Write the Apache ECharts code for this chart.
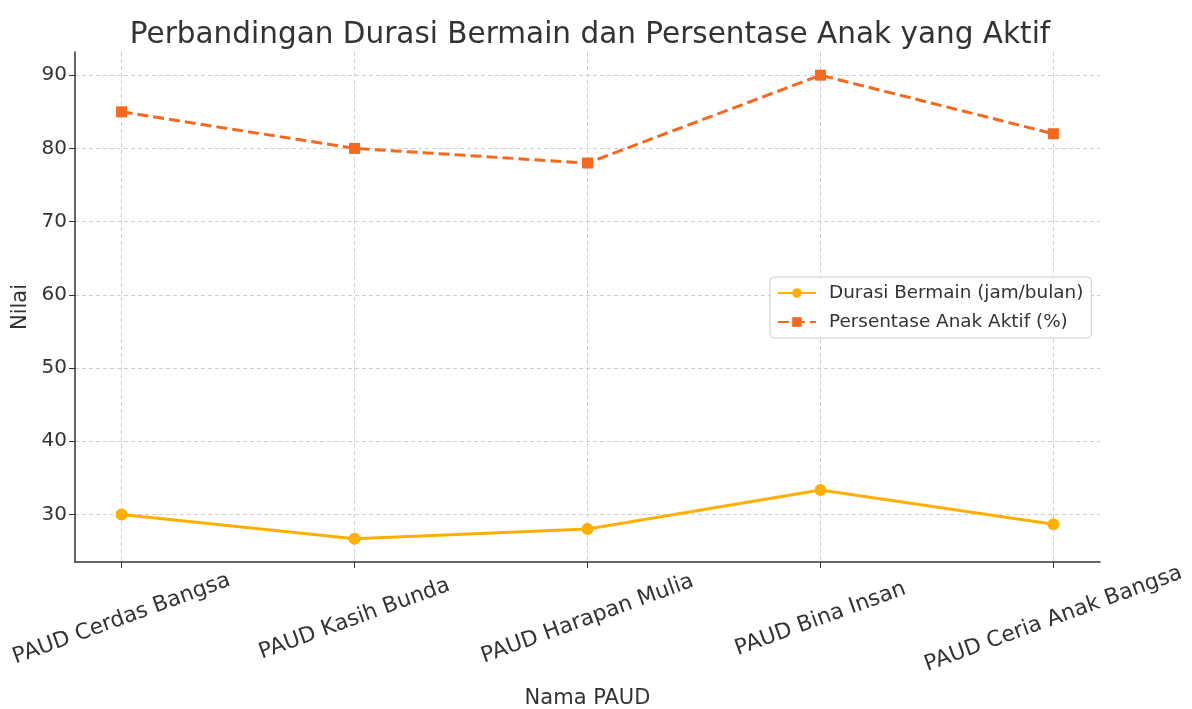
<!DOCTYPE html>
<html>
<head>
<meta charset="utf-8">
<script src="https://cdn.jsdelivr.net/npm/echarts@6/dist/echarts.min.js"></script>
<style>
  html, body { margin: 0; padding: 0; background: #fff; }
  #container { width: 1192px; height: 709px; }
</style>
</head>
<body>
<div id="container"></div>
<script>
var categories = ['PAUD Cerdas Bangsa', 'PAUD Kasih Bunda', 'PAUD Harapan Mulia', 'PAUD Bina Insan', 'PAUD Ceria Anak Bangsa'];
var durasiBermain = [30, 26.67, 28, 33.33, 28.67];
var persenAktif = [85, 80, 78, 90, 82];
var yTicks = [30, 40, 50, 60, 70, 80, 90];

var dom = document.getElementById('container');
var myChart = echarts.init(dom, null, { renderer: 'canvas' });

var font = 'DejaVu Sans';
var textColor = '#333';

function pairs(values) {
  return values.map(function (v, i) { return [i, v]; });
}

// matplotlib-like 5% margins around the data
var allVals = durasiBermain.concat(persenAktif);
var yLo = Math.min.apply(null, allVals), yHi = Math.max.apply(null, allVals);
var yPad = (yHi - yLo) * 0.05;
var xPad = (categories.length - 1) * 0.05;
var xTicks = categories.map(function (c, i) { return i; });

var option = {
  backgroundColor: '#fff',
  title: {
    text: 'Perbandingan Durasi Bermain dan Persentase Anak yang Aktif',
    left: 585,
    top: 15,
    textAlign: 'center',
    textStyle: { fontFamily: font, fontSize: 29.5, fontWeight: 'normal', color: textColor }
  },
  legend: {
    left: 770,
    top: 277,
    orient: 'vertical',
    backgroundColor: 'rgba(255,255,255,0.85)',
    borderColor: '#ccc',
    borderWidth: 1,
    borderRadius: 4,
    padding: [7, 8, 7, 7],
    itemGap: 11,
    itemWidth: 38,
    itemHeight: 12,
    textStyle: { fontFamily: font, fontSize: 18.4, color: textColor, padding: [0, 0, 0, 8] },
    data: ['Durasi Bermain (jam/bulan)', 'Persentase Anak Aktif (%)']
  },
  grid: { left: 75, right: 92, top: 52, bottom: 147, outerBoundsMode: 'none' },
  xAxis: {
    type: 'value',
    min: -xPad,
    max: categories.length - 1 + xPad,
    name: 'Nama PAUD',
    nameLocation: 'middle',
    nameGap: 126,
    nameTextStyle: { fontFamily: font, fontSize: 21, color: textColor },
    axisLine: { show: true, onZero: false, lineStyle: { color: '#333', width: 1.5 } },
    axisTick: { show: true, length: 6, customValues: xTicks, lineStyle: { color: '#333' } },
    axisLabel: {
      customValues: xTicks,
      rotate: 20,
      align: 'center',
      verticalAlign: 'middle',
      margin: 57,
      fontFamily: font,
      fontSize: 21.8,
      color: textColor,
      formatter: function (v) { return categories[Math.round(v)]; }
    },
    splitLine: { show: true, lineStyle: { color: '#d0d0d0', type: [4, 3], width: 1 } }
  },
  yAxis: {
    type: 'value',
    min: yLo - yPad,
    max: yHi + yPad,
    name: 'Nilai',
    nameLocation: 'middle',
    nameGap: 43,
    nameRotate: 90,
    nameTextStyle: { fontFamily: font, fontSize: 21, color: textColor },
    axisLine: { show: true, onZero: false, lineStyle: { color: '#333', width: 1.5 } },
    axisTick: { show: true, length: 6, customValues: yTicks, lineStyle: { color: '#333' } },
    axisLabel: {
      customValues: yTicks,
      margin: 8,
      fontFamily: font,
      fontSize: 20,
      color: textColor
    },
    splitLine: { show: true, lineStyle: { color: '#d0d0d0', type: [4, 3], width: 1 } }
  },
  series: [
    {
      name: 'Durasi Bermain (jam/bulan)',
      type: 'line',
      data: pairs(durasiBermain),
      symbol: 'circle',
      symbolSize: 12,
      color: '#FFAF00',
      lineStyle: { width: 3, color: '#FFAF00' },
      itemStyle: { color: '#FFAF00' }
    },
    {
      name: 'Persentase Anak Aktif (%)',
      type: 'line',
      data: pairs(persenAktif),
      symbol: 'rect',
      symbolSize: 11,
      color: '#F4681F',
      lineStyle: { width: 3, color: '#F4681F', type: [11, 5] },
      itemStyle: { color: '#F4681F' }
    }
  ]
};

myChart.setOption(option);
window.addEventListener('resize', myChart.resize);
</script>
</body>
</html>
